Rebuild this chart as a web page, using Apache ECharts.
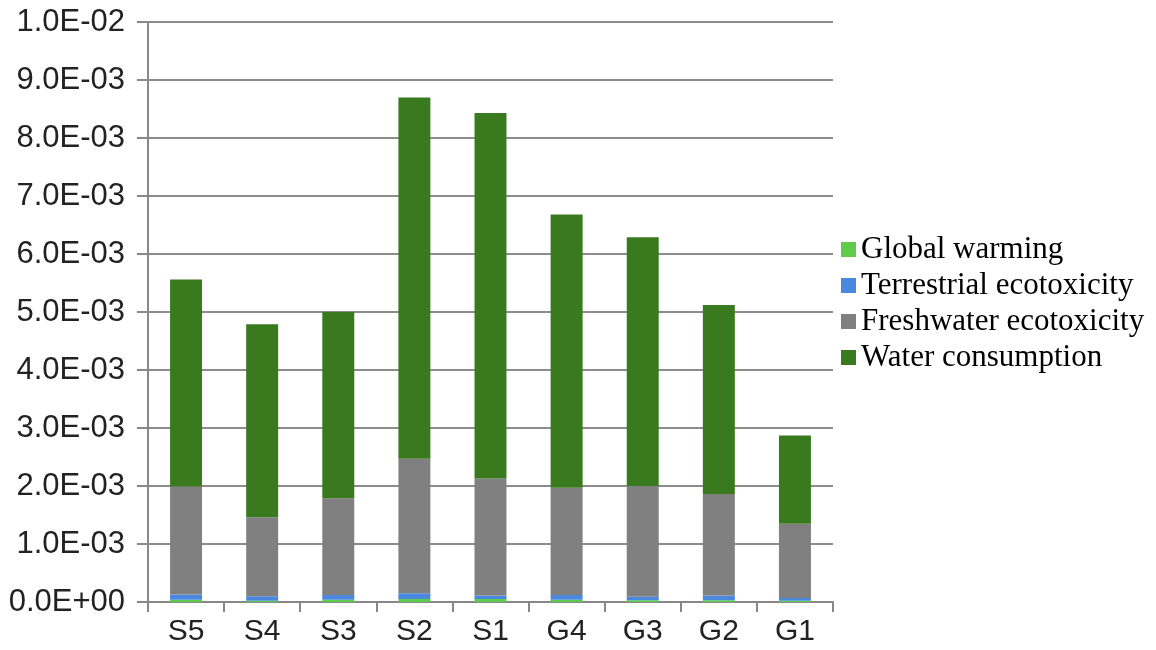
<!DOCTYPE html>
<html>
<head>
<meta charset="utf-8">
<script src="https://cdn.jsdelivr.net/npm/echarts@6/dist/echarts.min.js"></script>
<style>html,body{margin:0;padding:0;background:#fff;}#c{width:1156px;height:650px;}</style>
</head>
<body>
<div id="c"></div>
<script>
var categories = ['S5','S4','S3','S2','S1','G4','G3','G2','G1'];
var seriesNames = ['Global warming','Terrestrial ecotoxicity','Freshwater ecotoxicity','Water consumption'];
var globalWarming = [0.00004,0.00002,0.00004,0.00005,0.00005,0.00004,0.00003,0.00003,0.00002];
var terrestrial = [0.00009,0.00008,0.00008,0.00010,0.00006,0.00008,0.00006,0.00008,0.00005];
var freshwater = [0.00186,0.00136,0.00167,0.00232,0.00202,0.00185,0.00191,0.00175,0.00128];
var waterConsumption = [0.00357,0.00333,0.00321,0.00623,0.00630,0.00471,0.00429,0.00326,0.00152];
var colors = ['#5ecb4a','#4a88e0','#808080','#3a7a1e'];

function fmt(v){
  var s = Number(v).toExponential(1).toUpperCase();
  var parts = s.split('E');
  var e = parseInt(parts[1],10);
  var sign = e < 0 ? '-' : '+';
  var a = Math.abs(e);
  return parts[0] + 'E' + sign + (a < 10 ? '0' + a : '' + a);
}

var dataSets = [globalWarming, terrestrial, freshwater, waterConsumption];
var series = seriesNames.map(function(n,i){
  return {name:n,type:'bar',stack:'total',barWidth:'42%',data:dataSets[i],
    itemStyle:{color:colors[i]}};
});

var chart = echarts.init(document.getElementById('c'));
chart.setOption({
  animation:false,
  backgroundColor:'#fff',
  grid:{left:148,right:323,top:22,bottom:48},
  legend:{
    orient:'vertical',left:836,top:229,
    itemWidth:15,itemHeight:15,itemGap:5,
    icon:'rect',
    data:seriesNames,
    textStyle:{fontFamily:'Liberation Serif',fontSize:31,color:'#000'}
  },
  xAxis:{
    type:'category',data:categories,
    axisLine:{lineStyle:{color:'#888',width:2}},
    axisTick:{show:true,length:10,lineStyle:{color:'#888',width:2}},
    axisLabel:{fontFamily:'Liberation Sans',fontSize:30,color:'#222',margin:15}
  },
  yAxis:{
    type:'value',min:0,max:0.01,interval:0.001,
    axisLine:{show:true,lineStyle:{color:'#888',width:2}},
    axisTick:{show:true,length:11,lineStyle:{color:'#888',width:2}},
    splitLine:{show:true,lineStyle:{color:'#8c8c8c',width:2}},
    axisLabel:{fontFamily:'Liberation Sans',fontSize:31,color:'#222',margin:23,formatter:fmt}
  },
  series:series
});
</script>
</body>
</html>
